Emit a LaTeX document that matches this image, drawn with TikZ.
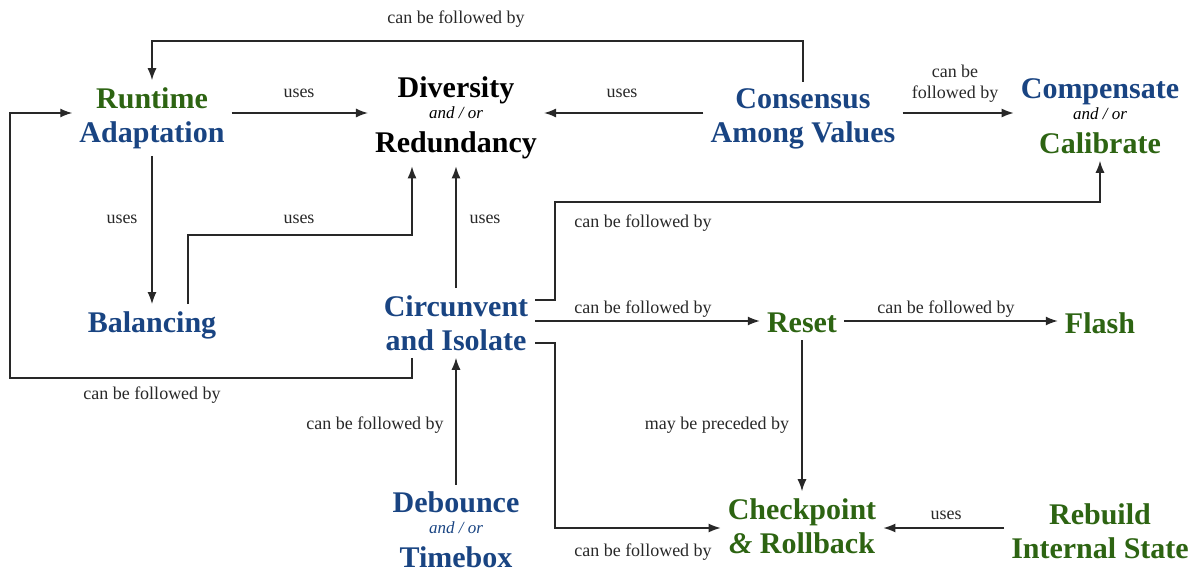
\documentclass[tikz,border=0pt]{standalone}
\usepackage{fontspec}
\setmainfont{Liberation Serif}
\usetikzlibrary{arrows.meta,calc}
\definecolor{nblue}{RGB}{25,68,130}
\definecolor{ngreen}{RGB}{45,100,18}
\definecolor{lgray}{RGB}{40,40,40}
\newcommand\andor{\\[-13pt]{\fontsize{17}{19}\selectfont\mdseries\itshape and / or}\\[0pt]}
\begin{document}
\begin{tikzpicture}[x=1pt,y=-1pt,
  box/.style={align=center, inner xsep=7pt, inner ysep=7pt, font=\fontsize{30}{34}\selectfont\bfseries},
  lbl/.style={font=\fontsize{18}{21}\selectfont, text=lgray, inner sep=0pt},
  arr/.style={draw=lgray, line width=1.4pt, -{Latex[length=12pt,width=9pt]}}]
\useasboundingbox (0,0) rectangle (1195,572);
% nodes
\node[box] (ra) at (152,118) {\textcolor{ngreen}{Runtime}\\\textcolor{nblue}{Adaptation}};
\node[box] (dr) at (456,118) {Diversity\andor Redundancy};
\node[box,text=nblue] (cav) at (803,119) {Consensus\\Among Values};
\node[box] (cc) at (1100,116) {\textcolor{nblue}{Compensate}\andor\textcolor{ngreen}{Calibrate}};
\node[box,text=nblue] (bal) at (152,325) {Balancing};
\node[box,text=nblue] (ci) at (456,323) {Circunvent\\and Isolate};
\node[box,text=ngreen] (reset) at (802,323) {Reset};
\node[box,text=ngreen] (flash) at (1100,323) {Flash};
\node[box,text=nblue] (dt) at (456,530) {Debounce\andor Timebox};
\node[box,text=ngreen] (cr) at (802,526) {Checkpoint\\{\itshape\&} Rollback};
\node[box,text=ngreen] (ris) at (1100,531) {Rebuild\\Internal State};
% connectors
\draw[arr] (cav.north) -- (cav.north |- 0,41) -| (ra.north);
\node[lbl] (l1) at (456,19) {can be followed by};
\draw[arr] (ra.east |- 0,113) -- (dr.west |- 0,113);
\node[lbl] (l2) at (299,93) {uses};
\draw[arr] (cav.west |- 0,113) -- (dr.east |- 0,113);
\node[lbl] (l3) at (622,93) {uses};
\draw[arr] (cav.east |- 0,113) -- (cc.west |- 0,113);
\node[lbl,align=center] (l4) at (955,84) {can be\\followed by};
\draw[arr] (ra.south) -- (bal.north);
\node[lbl] (l5) at (122,219) {uses};
\draw[arr] (bal.north -| 188,0) -- (188,235) -| (dr.south -| 412,0);
\node[lbl] (l6) at (299,219) {uses};
\draw[arr] (ci.north) -- (dr.south);
\node[lbl] (l7) at (485,219) {uses};
\draw[arr] (ci.east |- 0,300) -- (555,300) |- (cc.south |- 0,202) -- (cc.south);
\node[lbl] (l8) at (643,223) {can be followed by};
\draw[arr] (ci.east |- 0,321) -- (reset.west |- 0,321);
\node[lbl] (l9) at (643,309) {can be followed by};
\draw[arr] (reset.east |- 0,321) -- (flash.west |- 0,321);
\node[lbl] (l10) at (946,309) {can be followed by};
\draw[arr] (ci.south -| 412,0) -- (412,378) -| (10,113) -- (ra.west |- 0,113);
\node[lbl] (l11) at (152,395) {can be followed by};
\draw[arr] (dt.north) -- (ci.south);
\node[lbl] (l12) at (375,425) {can be followed by};
\draw[arr] (ci.east |- 0,343) -- (555,343) |- (cr.west |- 0,528);
\node[lbl] (l13) at (643,552) {can be followed by};
\draw[arr] (reset.south) -- (cr.north);
\node[lbl] (l14) at (717,425) {may be preceded by};
\draw[arr] (ris.west |- 0,528) -- (cr.east |- 0,528);
\node[lbl] (l15) at (946,515) {uses};
\end{tikzpicture}
\end{document}
